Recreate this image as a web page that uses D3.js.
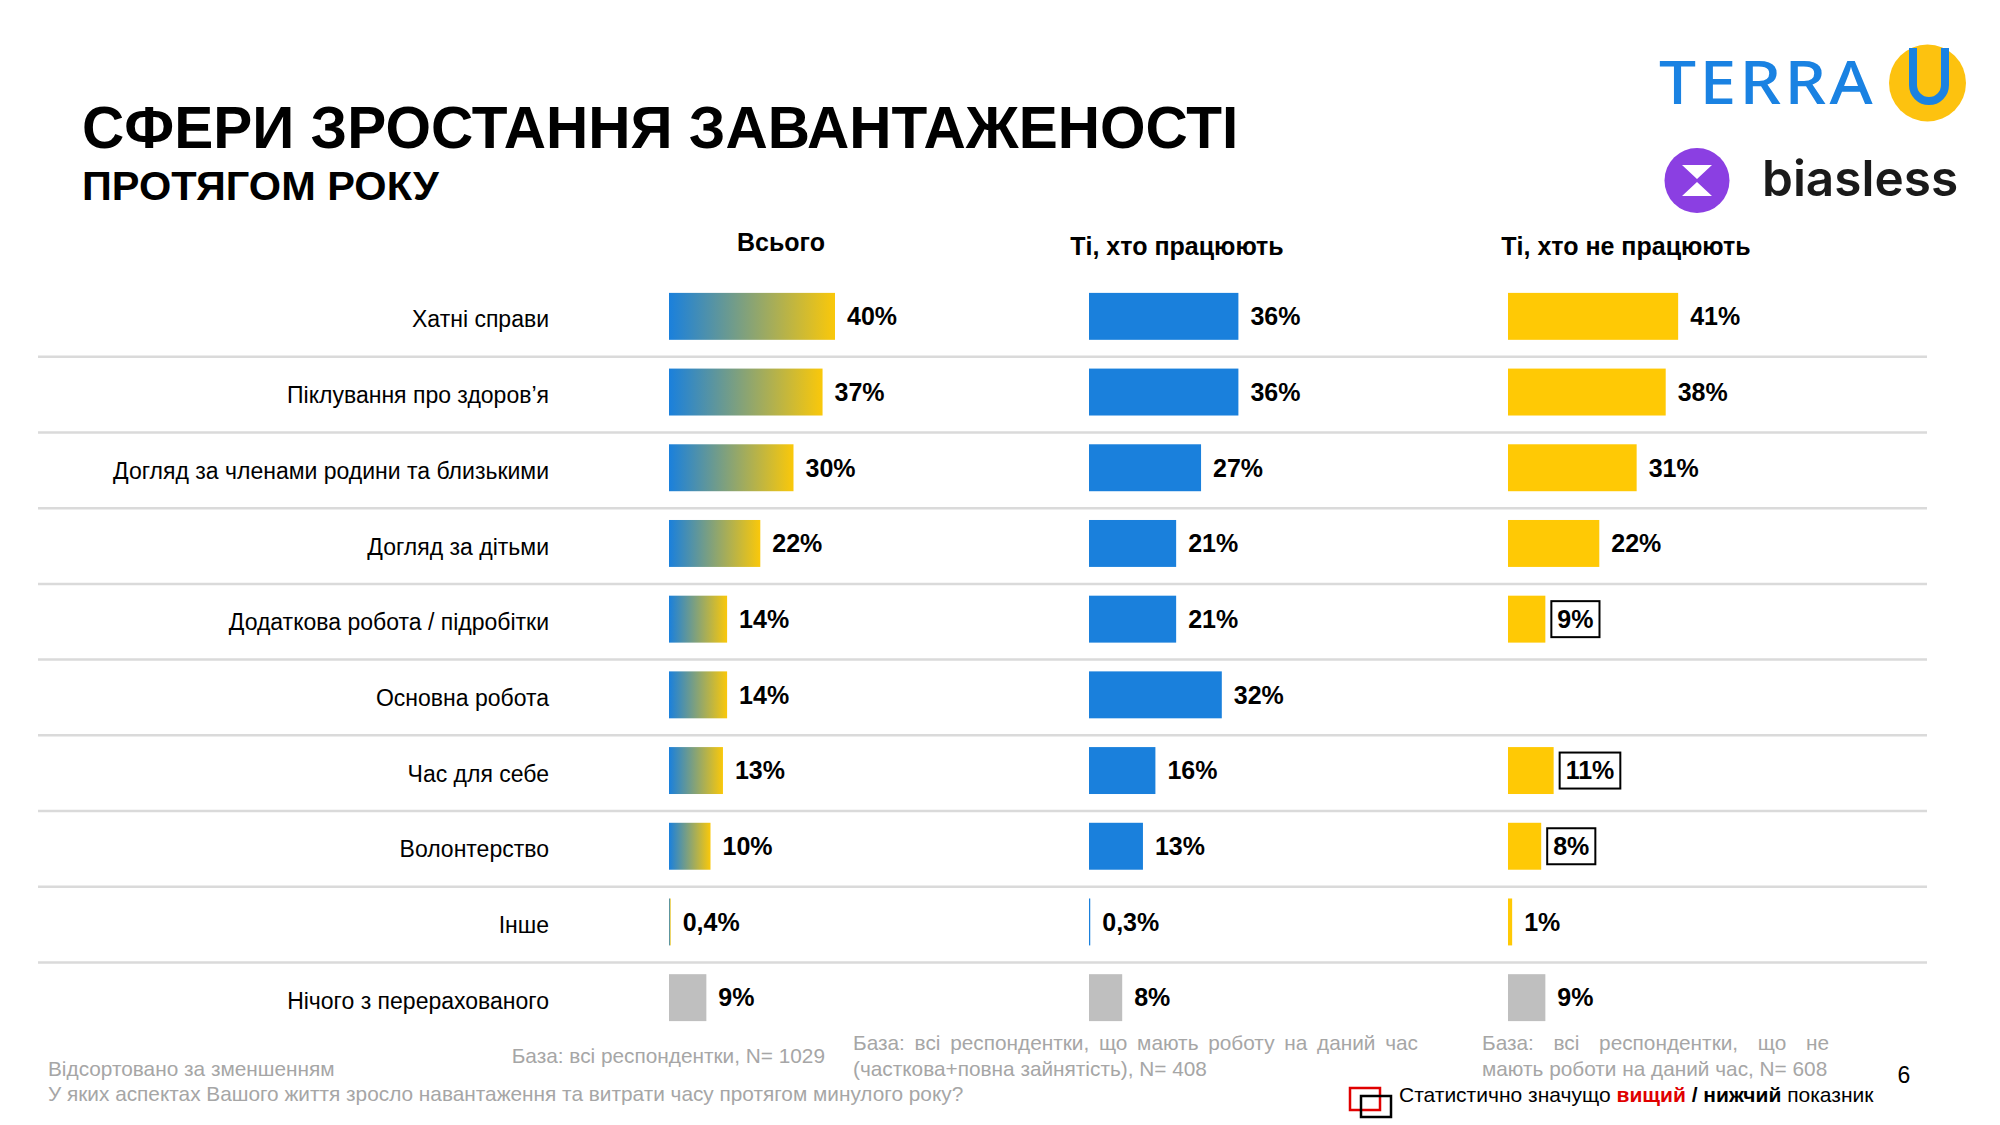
<!DOCTYPE html>
<html>
<head>
<meta charset="utf-8">
<script src="https://cdn.jsdelivr.net/npm/d3@7"></script>
<style>
  body { margin: 0; background: #fff; }
  text { font-family: "Liberation Sans", Arial, sans-serif; }
</style>
</head>
<body>
<script>
// data
const categories = [
  "Хатні справи",
  "Піклування про здоров’я",
  "Догляд за членами родини та близькими",
  "Догляд за дітьми",
  "Додаткова робота / підробітки",
  "Основна робота",
  "Час для себе",
  "Волонтерство",
  "Інше",
  "Нічого з перерахованого"
]
const totalValues = [40, 37, 30, 22, 14, 14, 13, 10, 0.4, 9]
const workingValues = [36, 36, 27, 21, 21, 32, 16, 13, 0.3, 8]
const notWorkingValues = [41, 38, 31, 22, 9, null, 11, 8, 1, 9]
// significantly lower than total (black frame)
const notWorkingLower = ["Додаткова робота / підробітки", "Час для себе", "Волонтерство"]
const columnTitles = ["Всього", "Ті, хто працюють", "Ті, хто не працюють"]

const w = 2000
const h = 1125
const colX = [669, 1089, 1508]      // left edge of each bar column
const headX = [781, 1177, 1626]     // column header centers
const blue = "#1a80dc"
const yellow = "#ffc905"
const grey = "#bfbfbf"

const columns = [
  { title: columnTitles[0], values: totalValues, fill: "url(#grad)", lower: [] },
  { title: columnTitles[1], values: workingValues, fill: blue, lower: [] },
  { title: columnTitles[2], values: notWorkingValues, fill: yellow, lower: notWorkingLower }
]

const svg = d3.select("body")
  .append("svg")
  .attr("width", w)
  .attr("height", h)

const grad = svg.append("defs").append("linearGradient")
  .attr("id", "grad")
  .attr("x1", 0).attr("x2", 1).attr("y1", 0).attr("y2", 0)
grad.append("stop").attr("offset", "0%").attr("stop-color", blue)
grad.append("stop").attr("offset", "100%").attr("stop-color", "#fac80a")

const x = d3.scaleLinear().domain([0, 45]).range([0, 186.75])
const y = d3.scaleBand()
  .domain(categories)
  .range([278.5, 1035.5])
  .paddingInner(0.38)
  .paddingOuter(0.19)

const fmt = v => (Number.isInteger(v) ? v : String(v).replace(".", ",")) + "%"

// title
svg.append("text")
  .attr("x", 82).attr("y", 148)
  .style("font-size", "58.5px").style("font-weight", "bold")
  .text("СФЕРИ ЗРОСТАННЯ ЗАВАНТАЖЕНОСТІ")
svg.append("text")
  .attr("x", 82).attr("y", 200)
  .style("font-size", "41.5px").style("font-weight", "bold")
  .text("ПРОТЯГОМ РОКУ")

// row dividers
svg.selectAll("line.div")
  .data(categories.slice(0, -1))
  .enter()
  .append("line")
  .attr("x1", 38).attr("x2", 1927)
  .attr("y1", d => y(d) + y.bandwidth() + 17)
  .attr("y2", d => y(d) + y.bandwidth() + 17)
  .attr("stroke", "#dadada")
  .attr("stroke-width", 2.5)

// category labels
svg.selectAll("text.cat")
  .data(categories)
  .enter()
  .append("text")
  .attr("x", 549)
  .attr("y", d => y(d) + y.bandwidth() / 2 + 3)
  .attr("dy", "0.35em")
  .attr("text-anchor", "end")
  .style("font-size", "23px")
  .text(d => d)

columns.forEach((col, ci) => {
  const g = svg.append("g").attr("transform", `translate(${colX[ci]},0)`)

  svg.append("text")
    .attr("x", headX[ci])
    .attr("y", ci === 0 ? 251 : 255)
    .attr("text-anchor", "middle")
    .style("font-size", "25px").style("font-weight", "bold")
    .text(col.title)

  const rows = categories.map((c, i) => ({ cat: c, v: col.values[i] }))
    .filter(d => d.v !== null)

  g.selectAll("rect.bar")
    .data(rows)
    .enter()
    .append("rect")
    .attr("x", 0)
    .attr("y", d => y(d.cat))
    .attr("width", d => x(d.v))
    .attr("height", y.bandwidth())
    .attr("fill", d => d.cat === categories[categories.length - 1] ? grey : col.fill)

  const labels = g.selectAll("text.val")
    .data(rows)
    .enter()
    .append("text")
    .attr("x", d => x(d.v) + 12)
    .attr("y", d => y(d.cat) + y.bandwidth() / 2)
    .attr("dy", "0.35em")
    .style("font-size", "25px").style("font-weight", "bold")
    .text(d => fmt(d.v))

  labels.filter(d => col.lower.includes(d.cat)).each(function (d) {
    const bb = this.getBBox()
    g.append("rect")
      .attr("x", bb.x - 6)
      .attr("y", y(d.cat) + y.bandwidth() / 2 - 18)
      .attr("width", bb.width + 12)
      .attr("height", 36)
      .attr("fill", "none")
      .attr("stroke", "#000")
      .attr("stroke-width", 2)
  })
})

// footnotes
const grey2 = "#a6a6a6"
const note = (tx, ty, s, anchor, justify) => {
  const t = svg.append("text")
    .attr("x", tx).attr("y", ty)
    .attr("text-anchor", anchor || "start")
    .style("font-size", "20.8px")
    .attr("fill", grey2)
    .text(s)
  if (justify) {
    const nat = t.node().getComputedTextLength()
    const gaps = s.split(" ").length - 1
    t.style("word-spacing", ((justify - nat) / gaps) + "px")
  }
  return t
}
note(48, 1076, "Відсортовано за зменшенням")
note(48, 1101, "У яких аспектах Вашого життя зросло навантаження та витрати часу протягом минулого року?")
note(825, 1063, "База: всі респондентки, N= 1029", "end")
note(853, 1050, "База: всі респондентки, що мають роботу на даний час", "start", 565)
note(853, 1076, "(часткова+повна зайнятість), N= 408")
note(1482, 1050, "База: всі респондентки, що не", "start", 347)
note(1482, 1076, "мають роботи на даний час, N= 608")

svg.append("text")
  .attr("x", 1904).attr("y", 1083)
  .attr("text-anchor", "middle")
  .style("font-size", "23px")
  .text("6")

// significance legend
svg.append("rect")
  .attr("x", 1350).attr("y", 1088).attr("width", 30).attr("height", 22)
  .attr("fill", "none").attr("stroke", "#e00000").attr("stroke-width", 2.5)
svg.append("rect")
  .attr("x", 1361).attr("y", 1096).attr("width", 30).attr("height", 21)
  .attr("fill", "none").attr("stroke", "#000").attr("stroke-width", 2.5)
const leg = svg.append("text")
  .attr("x", 1399).attr("y", 1102)
  .style("font-size", "21px")
leg.append("tspan").text("Статистично значущо ")
leg.append("tspan").style("font-weight", "bold").attr("fill", "#e00000").text("вищий")
leg.append("tspan").style("font-weight", "bold").text(" / нижчий")
leg.append("tspan").text(" показник")

// logos
svg.append("text")
  .attr("x", 1659).attr("y", 104)
  .attr("textLength", 217).attr("lengthAdjust", "spacingAndGlyphs")
  .style("font-family", "'Noto Sans', sans-serif")
  .style("font-size", "59px").style("font-weight", 500)
  .style("letter-spacing", "3px")
  .attr("fill", "#1a82e2")
  .text("TERRA")
svg.append("circle")
  .attr("cx", 1927.5).attr("cy", 83).attr("r", 38.5)
  .attr("fill", "#fdc20f")
svg.append("path")
  .attr("d", "M1913,48 V85 A16,16 0 0 0 1945,85 V48")
  .attr("fill", "none").attr("stroke", "#1a82e2").attr("stroke-width", 8)

svg.append("circle")
  .attr("cx", 1697).attr("cy", 180.5).attr("r", 32.5)
  .attr("fill", "#8b3fe2")
svg.append("path")
  .attr("d", "M1682,165 H1712 L1697,179 Z M1682,196 H1712 L1697,182 Z")
  .attr("fill", "#fff")
svg.append("text")
  .attr("x", 1762).attr("y", 196)
  .style("font-family", "Inter, sans-serif")
  .style("font-size", "49.5px").style("font-weight", 600)
  .attr("fill", "#1a1a1a")
  .text("biasless")
</script>
</body>
</html>
